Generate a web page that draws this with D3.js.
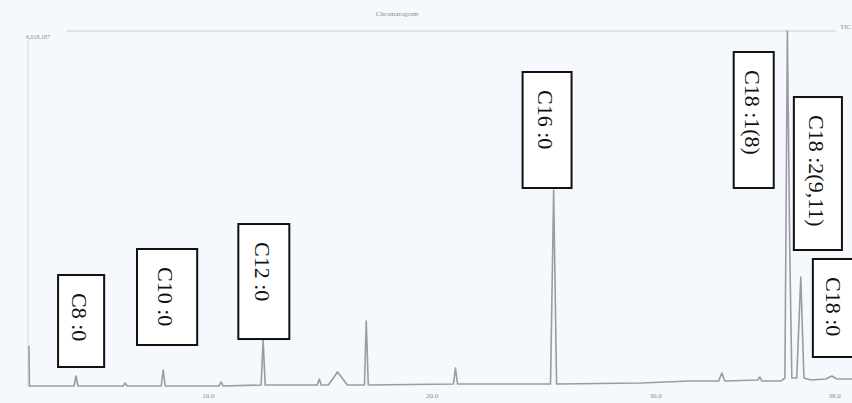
<!DOCTYPE html>
<html><head><meta charset="utf-8">
<script src="https://cdn.jsdelivr.net/npm/d3@7"></script>
<style>
html,body{margin:0;padding:0;background:#f5f8fc;}
svg{display:block;}
</style></head>
<body>
<svg id="chart" width="852" height="403"></svg>
<script>
// ---- data ----
const chartTitle = "Chromatogram";
const traceName = "TIC";
const maxIntensity = 6018187;
const xTickValues = [10, 20, 30, 38];
const xTickLabels = ["10.0", "20.0", "30.0", "38.0"];

// retention time (min) of trace points
const traceTime = [2.00, 2.02, 4.01, 4.10, 4.19, 6.21, 6.30, 6.39, 7.91, 8.00, 8.09,
  10.50, 10.59, 10.68, 12.38, 12.47, 12.56, 14.89, 14.98, 15.07, 15.38, 15.61, 15.79,
  15.97, 16.23, 17.00, 17.08, 17.17, 20.98, 21.07, 21.16, 25.32, 25.46, 25.59, 29.35,
  31.59, 32.84, 32.98, 33.11, 34.59, 34.68, 34.77, 35.62, 35.80, 35.91, 36.02, 36.11,
  36.33, 36.51, 36.65, 36.96, 37.63, 37.90, 38.12, 38.80];
// detector signal (counts) of trace points
const traceSignal = [693000, 17000, 17000, 186000, 17000, 17000, 68000, 17000, 17000, 287000, 17000,
  17000, 85000, 17000, 34000, 795000, 34000, 34000, 135000, 34000, 34000, 152000, 254000,
  169000, 34000, 34000, 1116000, 34000, 51000, 321000, 51000, 51000, 3330000, 51000, 68000,
  101000, 101000, 237000, 101000, 118000, 169000, 101000, 101000, 152000, 6018187, 2231000, 152000,
  152000, 1860000, 152000, 118000, 135000, 186000, 135000, 135000];

// peak annotations: label, box extent in time (min) and signal (counts)
const peakLabels = ["C8 :0", "C10 :0", "C12 :0", "C16 :0", "C18 :1(8)", "C18 :2(9,11)", "C18 :0"];
const boxTimeFrom = [3.30, 6.83, 11.36, 24.07, 33.51, 36.20, 37.05];
const boxTimeTo   = [5.36, 9.52, 13.64, 26.26, 35.30, 38.35, 38.97];
const boxSignalLow  = [338000, 710000, 811000, 3364000, 3364000, 2316000, 507000];
const boxSignalHigh = [1893000, 2333000, 2755000, 5325000, 5663000, 4902000, 2164000];

// ---- drawing ----
const svg = d3.select("#chart");
const x = d3.scaleLinear().domain([2, 38.8]).range([29, 852]);
const y = d3.scaleLinear().domain([0, maxIntensity]).range([387, 31]);

// frame lines
svg.append("line").attr("x1", 28).attr("x2", 28).attr("y1", 40).attr("y2", 387)
  .attr("stroke", "#d4d8de").attr("stroke-width", 1);
svg.append("line").attr("x1", 67).attr("x2", 836).attr("y1", y(maxIntensity)).attr("y2", y(maxIntensity))
  .attr("stroke", "#c8ccd2").attr("stroke-width", 1);

// texts
svg.append("text").attr("x", 397).attr("y", 16).attr("text-anchor", "middle")
  .attr("font-family", "Liberation Serif").attr("font-size", 7).attr("fill", "#8a8e94").text(chartTitle);
svg.append("text").attr("x", 840).attr("y", 29)
  .attr("font-family", "Liberation Serif").attr("font-size", 7).attr("fill", "#8a8e94").text(traceName);
svg.append("text").attr("x", 26).attr("y", 39)
  .attr("font-family", "Liberation Serif").attr("font-size", 6).attr("fill", "#8a8e94")
  .text(d3.format(",")(maxIntensity));

// x axis labels
const xAxis = d3.axisBottom(x).tickValues(xTickValues).tickSize(0)
  .tickFormat((d, i) => xTickLabels[i]);
const gx = svg.append("g").attr("transform", "translate(0,390)").call(xAxis);
gx.select(".domain").remove();
gx.selectAll("text").attr("font-family", "Liberation Serif").attr("font-size", 7).attr("fill", "#8a8e94");

// trace
const pts = traceTime.map((t, i) => [t, traceSignal[i]]);
svg.append("path").datum(pts)
  .attr("d", d3.line().x(d => x(d[0])).y(d => y(d[1])))
  .attr("fill", "none").attr("stroke", "#999ca1").attr("stroke-width", 1.6)
  .attr("stroke-linejoin", "round");

// annotation boxes
peakLabels.forEach((lab, i) => {
  const x0 = x(boxTimeFrom[i]), x1 = x(boxTimeTo[i]);
  const yTop = y(boxSignalHigh[i]), yBot = y(boxSignalLow[i]);
  svg.append("rect").attr("x", x0).attr("y", yTop).attr("width", x1 - x0).attr("height", yBot - yTop)
    .attr("fill", "#ffffff").attr("stroke", "#111").attr("stroke-width", 2);
  const cx = (x0 + x1) / 2, ty = yTop + 18;
  svg.append("text").attr("transform", `translate(${cx},${ty}) rotate(90)`)
    .attr("dominant-baseline", "central").attr("dy", "0.05em")
    .attr("font-family", "Liberation Serif").attr("font-size", 22).attr("fill", "#111")
    .text(lab);
});
</script>
</body></html>
